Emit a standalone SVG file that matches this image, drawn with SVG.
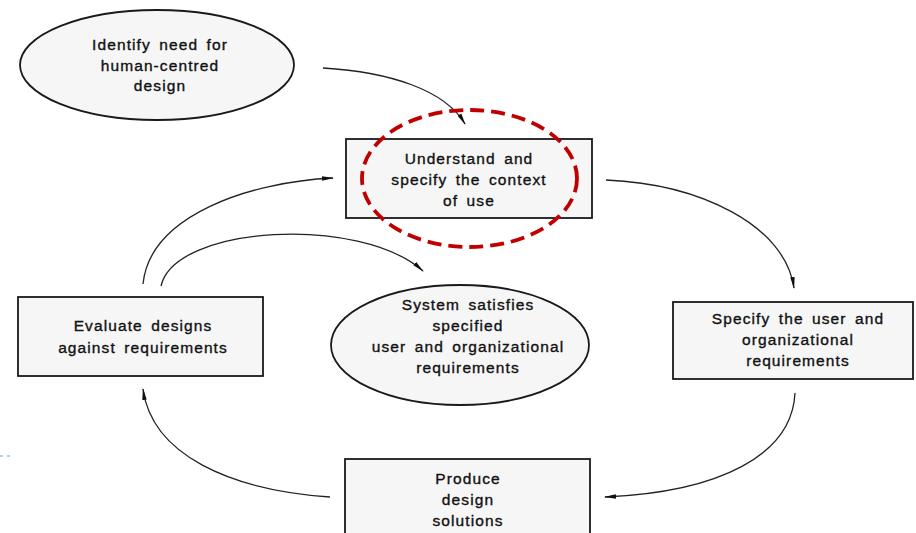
<svg xmlns="http://www.w3.org/2000/svg" width="916" height="533" viewBox="0 0 916 533">
  <style>
    .shape { fill: #f6f6f6; stroke: #1a1a1a; stroke-width: 1.8; }
    .label { font-family: "Liberation Sans", Arial, sans-serif; font-size: 15.5px; letter-spacing: 1.1px; word-spacing: 3px; fill: #111; stroke: #111; stroke-width: 0.35; text-anchor: middle; }
    .conn { fill: none; stroke: #222; stroke-width: 1.3; marker-end: url(#arrow); }
    .highlight { fill: none; stroke: #c00000; stroke-width: 3.8; stroke-dasharray: 14 7; }
  </style>
  <defs>
    <marker id="arrow" viewBox="0 0 12 6" refX="11" refY="3" markerWidth="12" markerHeight="6" markerUnits="userSpaceOnUse" orient="auto">
      <path d="M0,0.8 L12,3 L0,5.2 Z" fill="#111"/>
    </marker>
  </defs>
  <rect width="916" height="533" fill="#ffffff"/>

  <!-- edge marker on the left margin -->
  <line x1="0" y1="456" x2="14" y2="456" stroke="#9fbde0" stroke-width="1.5" stroke-dasharray="3 4"/>

  <g id="connectors">
    <path class="conn" d="M323,68 C390,72 445,90 465,124"/>
    <path class="conn" d="M606,180 C700,184 785,225 794,288"/>
    <path class="conn" d="M795,393 C792,455 720,492 605,497"/>
    <path class="conn" d="M330,497 C230,490 152,455 143,389"/>
    <path class="conn" d="M143,284 C150,215 250,182 333,178"/>
    <path class="conn" d="M161,286 C175,225 360,215 423,271"/>
  </g>

  <g id="identify-need">
    <ellipse class="shape" cx="157" cy="65" rx="137" ry="55"/>
    <text class="label" x="160" y="50">Identify need for</text>
    <text class="label" x="160" y="71">human-centred</text>
    <text class="label" x="160" y="91">design</text>
  </g>

  <g id="context-of-use">
    <rect class="shape" x="346" y="139" width="246" height="79"/>
    <text class="label" x="469" y="164">Understand and</text>
    <text class="label" x="469" y="185">specify the context</text>
    <text class="label" x="469" y="206">of use</text>
  </g>

  <g id="requirements">
    <rect class="shape" x="673" y="302" width="240" height="77"/>
    <text class="label" x="798" y="324">Specify the user and</text>
    <text class="label" x="798" y="345">organizational</text>
    <text class="label" x="798" y="366">requirements</text>
  </g>

  <g id="design-solutions">
    <rect class="shape" x="345" y="459" width="245" height="90"/>
    <text class="label" x="468" y="484">Produce</text>
    <text class="label" x="468" y="505">design</text>
    <text class="label" x="468" y="526">solutions</text>
  </g>

  <g id="evaluate">
    <rect class="shape" x="18" y="297" width="245" height="79"/>
    <text class="label" x="143" y="331">Evaluate designs</text>
    <text class="label" x="143" y="353">against requirements</text>
  </g>

  <g id="system-satisfies">
    <ellipse class="shape" cx="460" cy="345" rx="129" ry="60"/>
    <text class="label" x="468" y="310">System satisfies</text>
    <text class="label" x="468" y="331">specified</text>
    <text class="label" x="468" y="352">user and organizational</text>
    <text class="label" x="468" y="373">requirements</text>
  </g>

  <g id="focus-highlight">
    <ellipse class="highlight" cx="469.5" cy="178.5" rx="107.5" ry="68.5"/>
  </g>
</svg>
